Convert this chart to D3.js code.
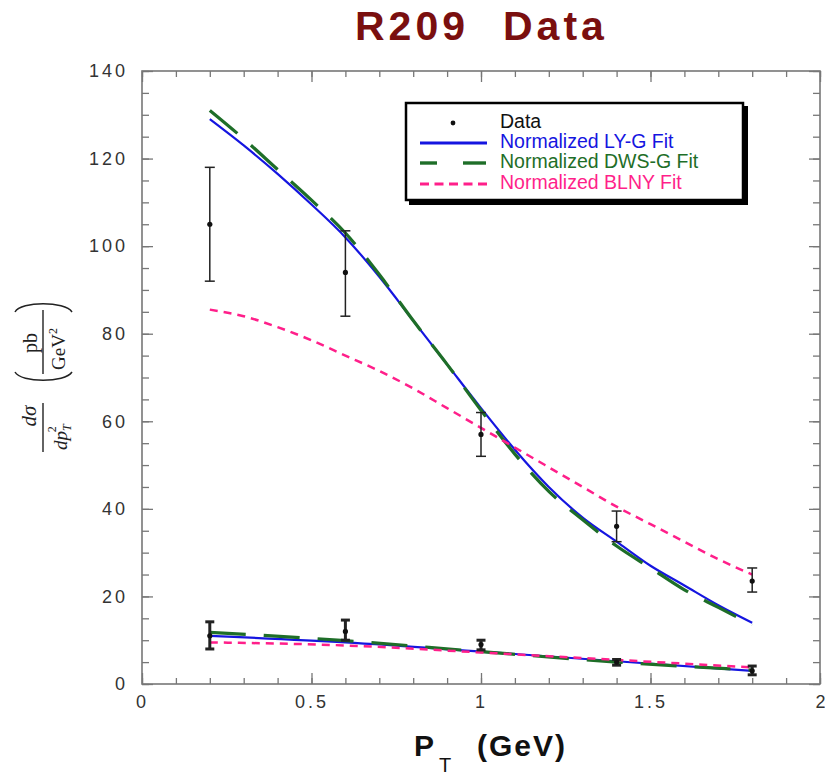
<!DOCTYPE html>
<html>
<head>
<meta charset="utf-8">
<script src="https://cdn.jsdelivr.net/npm/d3@7"></script>
<style>
  body { margin: 0; background: #fff; }
  svg { display: block; }
  .tick text { font-family: "Liberation Sans", Arial, sans-serif; font-size: 18px; fill: #333; letter-spacing: 3px; }
  .axis path { display: none; }
  .axis line { stroke: #777; stroke-width: 1.3; }
</style>
</head>
<body>
<div id="chart"></div>
<script>
// fit curves, sampled every 0.1 GeV
var pt = [0.2, 0.3, 0.4, 0.5, 0.6, 0.7, 0.8, 0.9, 1.0, 1.1, 1.2, 1.3, 1.4, 1.5, 1.6, 1.7, 1.8]
var lygUpper  = [129, 123, 116.5, 109.5, 102, 93, 83, 73, 63, 53.5, 45, 38, 32.5, 27, 22.5, 18, 14]
var dwsUpper  = [131, 124.5, 117.5, 110.5, 103, 93.5, 83, 73, 62.5, 52.5, 44, 37.5, 31.5, 26.5, 21.5, 17.5, 13.5]
var blnyUpper = [85.5, 84, 81.5, 78.5, 75, 71.5, 67.5, 63, 58.5, 54, 49.5, 45, 40.5, 36.5, 32.5, 28.5, 25]

var ptLow = [0.2, 0.6, 1.0, 1.4, 1.8]
var lygLower  = [11, 9.5, 7.4, 5.2, 3]
var dwsLower  = [11.8, 9.9, 7.4, 5.0, 3.2]
var blnyLower = [9.5, 8.8, 7.2, 5.5, 3.8]

// measured points with error bars
var dataPt = [0.2, 0.6, 1.0, 1.4, 1.8]
var dataUpper = [105, 94, 57, 36, 23.5]
var errUpperLo = [92, 84, 52, 32.5, 21]
var errUpperHi = [118, 103.5, 62, 39.5, 26.5]
var dataLower = [11, 12, 9, 5, 3]
var errLowerLo = [8, 10, 7.8, 4.3, 2.1]
var errLowerHi = [14.2, 14.6, 10, 5.6, 4.1]

var xTicks = [0, 0.5, 1, 1.5, 2]
var yTicks = [0, 20, 40, 60, 80, 100, 120, 140]

var legendItems = [
  {label: 'Data', color: '#111', kind: 'dot'},
  {label: 'Normalized LY-G Fit', color: '#1515e0', kind: 'lyg'},
  {label: 'Normalized DWS-G Fit', color: '#1e6e28', kind: 'dws'},
  {label: 'Normalized BLNY Fit', color: '#ff1f8a', kind: 'blny'}
]

var W = 825, H = 776
var svg = d3.select('#chart').append('svg').attr('width', W).attr('height', H)

var x = d3.scaleLinear().domain([0, 2]).range([142, 820])
var y = d3.scaleLinear().domain([0, 140]).range([684, 71])

var styles = {
  lyg:  {stroke: '#1515e0', width: 2.2, dash: null},
  dws:  {stroke: '#1e6e28', width: 3.2, dash: '36,18'},
  blny: {stroke: '#ff1f8a', width: 2.5, dash: '8,6'}
}

// axes: minor + major ticks, all pointing inward
function addAxis(axisFn, scale, vals, size, translate, labels) {
  var a = axisFn(scale).tickValues(vals).tickSizeInner(-size).tickSizeOuter(0)
  if (labels) a.tickPadding(labels).tickFormat(d3.format('~g'))
  else a.tickFormat('')
  return svg.append('g').attr('class', 'axis').attr('transform', translate).call(a)
}
var xMinor = d3.range(0, 21).map(function(i){ return i / 10 })
var yMinor = d3.range(0, 29).map(function(i){ return i * 5 })

addAxis(d3.axisBottom, x, xMinor, 6, 'translate(0,684)')
var xAx = addAxis(d3.axisBottom, x, xTicks, 11, 'translate(0,684)', 11)
addAxis(d3.axisTop, x, xMinor, 6, 'translate(0,71)')
addAxis(d3.axisTop, x, xTicks, 11, 'translate(0,71)')
addAxis(d3.axisLeft, y, yMinor, 7, 'translate(142,0)')
addAxis(d3.axisLeft, y, yTicks, 11, 'translate(142,0)', 14)
addAxis(d3.axisRight, y, yMinor, 7, 'translate(820,0)')
addAxis(d3.axisRight, y, yTicks, 11, 'translate(820,0)')
// last label sits at the window edge; keep it fully visible
xAx.selectAll('.tick text').filter(function(d){ return d === 2 })
  .attr('text-anchor', 'end').attr('x', 5).style('letter-spacing', '0px')

svg.append('rect')
  .attr('x', x(0)).attr('y', y(140))
  .attr('width', x(2) - x(0)).attr('height', y(0) - y(140))
  .attr('fill', 'none').attr('stroke', '#777').attr('stroke-width', 1.6)

// fit curves
var line = d3.line()
  .x(function(d){ return x(d[0]) })
  .y(function(d){ return y(d[1]) })
  .curve(d3.curveMonotoneX)

function drawFit(xs, ys, key) {
  var s = styles[key]
  svg.append('path')
    .attr('d', line(d3.zip(xs, ys)))
    .attr('fill', 'none')
    .attr('stroke', s.stroke)
    .attr('stroke-width', s.width)
    .attr('stroke-dasharray', s.dash)
}
drawFit(pt, lygUpper, 'lyg')
drawFit(pt, dwsUpper, 'dws')
drawFit(pt, blnyUpper, 'blny')
drawFit(ptLow, lygLower, 'lyg')
drawFit(ptLow, dwsLower, 'dws')
drawFit(ptLow, blnyLower, 'blny')

// error bars
function drawErr(xs, vals, lo, hi, w, cap) {
  var g = svg.append('g').attr('stroke', '#222').attr('stroke-width', w)
  xs.forEach(function(v, i){
    var cx = x(v)
    g.append('line').attr('x1', cx).attr('x2', cx).attr('y1', y(lo[i])).attr('y2', y(hi[i]))
    g.append('line').attr('x1', cx - cap).attr('x2', cx + cap).attr('y1', y(lo[i])).attr('y2', y(lo[i]))
    g.append('line').attr('x1', cx - cap).attr('x2', cx + cap).attr('y1', y(hi[i])).attr('y2', y(hi[i]))
    svg.append('circle').attr('cx', cx).attr('cy', y(vals[i])).attr('r', 2.6).attr('fill', '#111')
  })
}
drawErr(dataPt, dataUpper, errUpperLo, errUpperHi, 1.5, 5)
drawErr(dataPt, dataLower, errLowerLo, errLowerHi, 3, 4.5)

// legend
var lg = svg.append('g')
lg.append('rect').attr('x', 409).attr('y', 106).attr('width', 339).attr('height', 99).attr('fill', '#000')
lg.append('rect').attr('x', 406).attr('y', 103).attr('width', 337).attr('height', 97)
  .attr('fill', '#fff').attr('stroke', '#000').attr('stroke-width', 2.5)
var rowY = [123, 143, 163, 184]
legendItems.forEach(function(d, i){
  var yy = rowY[i]
  if (d.kind === 'dot') {
    lg.append('circle').attr('cx', 453).attr('cy', yy).attr('r', 2.4).attr('fill', d.color)
  } else if (d.kind === 'dws') {
    [[420, 437], [463, 486]].forEach(function(seg){
      lg.append('line').attr('x1', seg[0]).attr('x2', seg[1]).attr('y1', yy).attr('y2', yy)
        .attr('stroke', styles.dws.stroke).attr('stroke-width', 3.4)
    })
  } else {
    var s = styles[d.kind]
    lg.append('line').attr('x1', 420).attr('x2', 487).attr('y1', yy).attr('y2', yy)
      .attr('stroke', s.stroke).attr('stroke-width', 3.2)
      .attr('stroke-dasharray', d.kind === 'blny' ? '9,5.5' : null)
  }
  lg.append('text').attr('x', 500).attr('y', yy + 5)
    .attr('font-family', '"Liberation Sans", Arial, sans-serif').attr('font-size', 19.5)
    .attr('fill', d.color).text(d.label)
})

// title
var tAttrs = function(t){
  return t.attr('y', 40).attr('font-family', '"Liberation Sans", Arial, sans-serif')
    .attr('font-size', 41).attr('font-weight', 'bold').attr('fill', '#7a0f0f')
    .attr('letter-spacing', 4)
}
tAttrs(svg.append('text').attr('x', 355)).text('R209')
tAttrs(svg.append('text').attr('x', 503)).text('Data')

// x label
var xFont = '"Liberation Sans", Arial, sans-serif'
svg.append('text').attr('x', 414).attr('y', 756).attr('font-family', xFont)
  .attr('font-size', 30).attr('font-weight', 'bold').attr('fill', '#111').text('P')
svg.append('text').attr('x', 439).attr('y', 772).attr('font-family', xFont)
  .attr('font-size', 20).attr('fill', '#111').text('T')
svg.append('text').attr('x', 477).attr('y', 756).attr('font-family', xFont)
  .attr('font-size', 30).attr('font-weight', 'bold').attr('fill', '#111')
  .attr('letter-spacing', 2).text('(GeV)')

// y label (rotated)
var yg = svg.append('g').attr('transform', 'translate(43,380) rotate(-90)')
  .attr('font-family', '"Liberation Serif", "DejaVu Serif", serif').attr('fill', '#222')
yg.append('text').attr('x', -36).attr('y', -7).attr('text-anchor', 'middle')
  .attr('font-size', 21).attr('font-style', 'italic').text('dσ')
yg.append('line').attr('x1', -72).attr('x2', -23).attr('y1', 0).attr('y2', 0).attr('stroke', '#222').attr('stroke-width', 1.4)
var dn = yg.append('text').attr('x', -70).attr('y', 24).attr('font-size', 19).attr('font-style', 'italic')
dn.append('tspan').text('dp')
dn.append('tspan').attr('font-size', 12).attr('dy', 4).text('T')
dn.append('tspan').attr('font-size', 12).attr('dx', -8).attr('dy', -15).attr('font-style', 'normal').text('2')

yg.append('text').attr('x', 37).attr('y', -6).attr('text-anchor', 'middle').attr('font-size', 20).text('pb')
yg.append('line').attr('x1', 6).attr('x2', 70).attr('y1', 0).attr('y2', 0).attr('stroke', '#222').attr('stroke-width', 1.4)
var gv = yg.append('text').attr('x', 10).attr('y', 22).attr('font-size', 19)
gv.append('tspan').text('GeV')
gv.append('tspan').attr('font-size', 12).attr('dy', -8).text('2')
// big parentheses
yg.append('path').attr('d', 'M8,-28 C-3,-22 -3,22 8,29').attr('fill', 'none').attr('stroke', '#222').attr('stroke-width', 1.5)
yg.append('path').attr('d', 'M68,-28 C79,-22 79,22 68,29').attr('fill', 'none').attr('stroke', '#222').attr('stroke-width', 1.5)
</script>
</body>
</html>
